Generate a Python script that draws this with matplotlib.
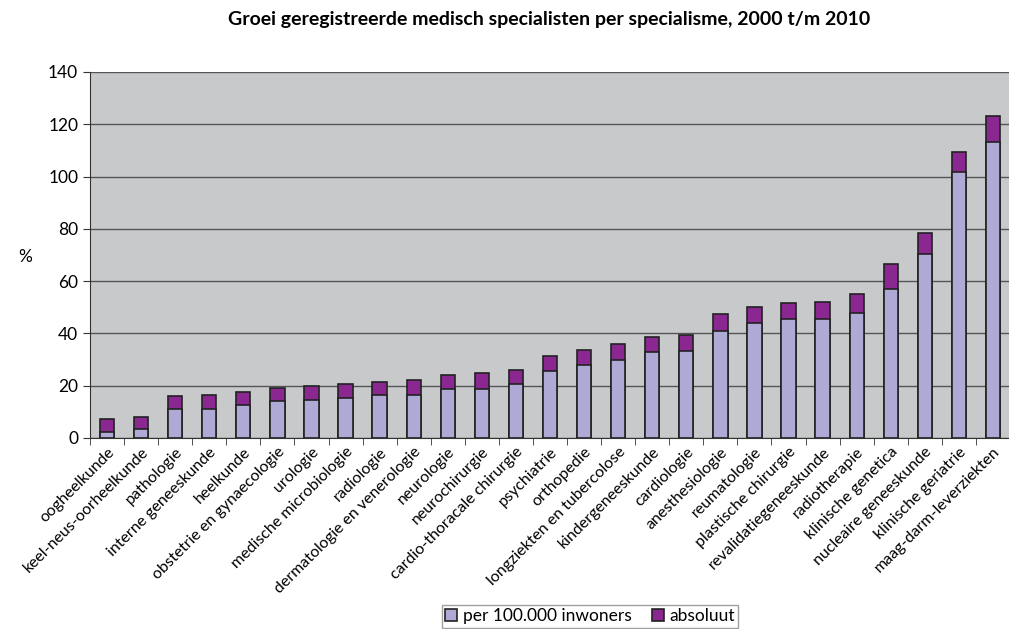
import matplotlib
matplotlib.use("Agg")
import matplotlib.pyplot as plt
import numpy as np

categories = [
    "oogheelkunde", "keel-neus-oorheelkunde", "pathologie", "interne geneeskunde",
    "heelkunde", "obstetrie en gynaecologie", "urologie", "medische microbiologie",
    "radiologie", "dermatologie en venerologie", "neurologie", "neurochirurgie",
    "cardio-thoracale chirurgie", "psychiatrie", "orthopedie", "longziekten en tubercolose",
    "kindergeneeskunde", "cardiologie", "anesthesiologie", "reumatologie",
    "plastische chirurgie", "revalidatiegeneeskunde", "radiotherapie", "klinische genetica",
    "nucleaire geneeskunde", "klinische geriatrie", "maag-darm-leverziekten",
]
absoluut = [7.1, 8.1, 15.9, 16.3, 17.6, 19.1, 20.0, 20.8, 21.6, 22.1, 24.1, 24.7,
            25.9, 31.5, 33.7, 36.0, 38.8, 39.3, 47.4, 50.1, 51.5, 52.0, 55.2, 66.4,
            78.5, 109.4, 123.2]
per_100000 = [2.4, 3.3, 11.1, 11.1, 12.6, 14.0, 14.6, 15.2, 16.5, 16.6, 18.6, 18.6,
              20.5, 25.7, 27.9, 29.8, 32.8, 33.4, 40.9, 44.1, 45.4, 45.5, 47.9, 56.9,
              70.3, 101.6, 113.2]
yticks = [0, 20, 40, 60, 80, 100, 120, 140]

plt.rcParams['font.family'] = ['Lato', 'DejaVu Sans']

fig = plt.figure(figsize=(10.09, 6.29), dpi=100)
ax = fig.add_axes([90/1009, 1-438/629, 920/1009, 366/629])
ax.set_facecolor('#C8C9CB')

x = np.arange(len(categories))
w = 0.42
ax.bar(x, absoluut, width=w, color='#8B2790', edgecolor='#222222', linewidth=1.2,
       label='absoluut', zorder=3)
ax.bar(x, per_100000, width=w, color='#AEAAD5', edgecolor='#222222', linewidth=1.2,
       label='per 100.000 inwoners', zorder=4)

ax.set_ylim(0, 140)
ax.set_xlim(-0.5, len(categories) - 0.5)
ax.set_yticks(yticks)
ax.set_yticklabels([str(v) for v in yticks], fontsize=12.5)
ax.yaxis.grid(True, color='#555555', linewidth=1.0, zorder=0)
ax.set_axisbelow(True)

ax.set_xticks(x)
ax.set_xticklabels(categories, rotation=45, ha='right', va='top', rotation_mode='anchor',
                   fontsize=11.5)
ax.tick_params(axis='x', which='major', length=0, pad=5)
ax.set_xticks(np.arange(-0.5, len(categories), 1), minor=True)
ax.tick_params(axis='x', which='minor', length=5, color='#333333')
ax.tick_params(axis='y', length=5, color='#333333')

for s in ['top', 'right']:
    ax.spines[s].set_visible(False)
ax.spines['left'].set_color('#333333')
ax.spines['bottom'].set_color('#333333')

fig.text(18/1009, 1-257/629, '%', fontsize=12.5, ha='left', va='center')
fig.text(549/1009, 1-20/629, 'Groei geregistreerde medisch specialisten per specialisme, 2000 t/m 2010',
         fontsize=14, fontweight='bold', ha='center', va='center')

h, l = ax.get_legend_handles_labels()
leg = fig.legend(h[::-1], l[::-1], loc='lower left', bbox_to_anchor=(433/1009, -0.012),
                 ncol=2, fontsize=12.5, frameon=True, fancybox=False, edgecolor='#888888',
                 handlelength=0.7, handleheight=0.7, handletextpad=0.3, columnspacing=1.2,
                 borderpad=0.2)
leg.get_frame().set_linewidth(1.0)

fig.savefig('out.png', dpi=100)
